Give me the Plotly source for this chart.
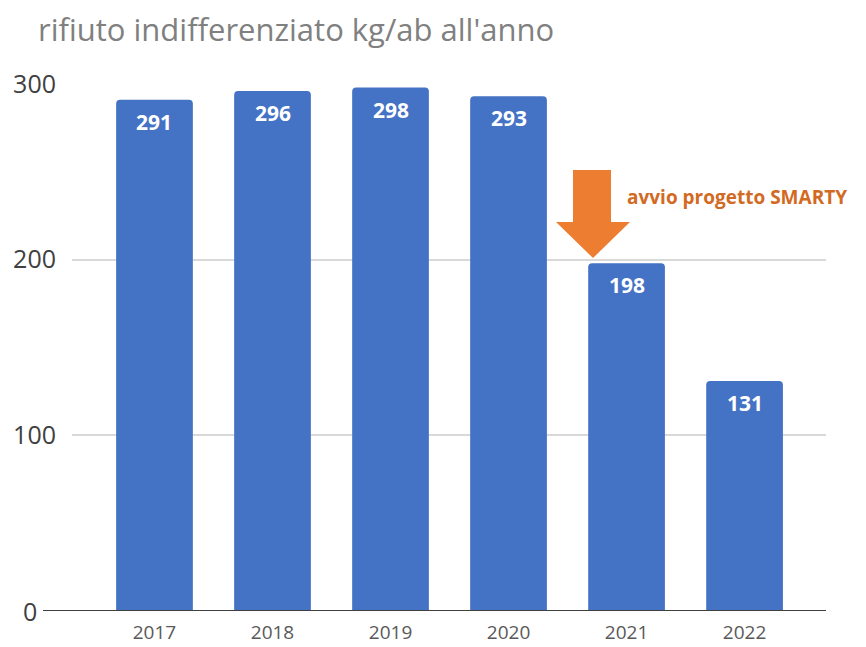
import plotly.graph_objects as go

years = ["2017", "2018", "2019", "2020", "2021", "2022"]
values = [291, 296, 298, 293, 198, 131]
y_ticks = [0, 100, 200, 300]
title_text = "rifiuto indifferenziato kg/ab all'anno"
note_text = "avvio progetto SMARTY"

W, H = 866, 647
L, R, T, B = 72, 40, 84, 36

fig = go.Figure()
fig.add_trace(go.Bar(
    x=list(range(len(years))), y=values,
    marker=dict(color="#4472C4", cornerradius=4, line=dict(width=0)),
    width=0.65, hoverinfo="skip",
))

for i, v in enumerate(values):
    fig.add_annotation(x=i, y=v, xref="x", yref="y", text=f"<b>{v}</b>",
                       showarrow=False, yshift=-22,
                       font=dict(family="Open Sans", size=21, color="white"))

pw, ph = W - L - R, H - T - B
def px(x): return (x - L) / pw
def py(y): return 1 - (y - T) / ph

# block arrow (paper coords)
pts = [(573, 170), (611, 170), (611, 222), (630, 222), (593, 258), (556, 222), (573, 222)]
path = "M " + " L ".join(f"{px(x):.5f},{py(y):.5f}" for x, y in pts) + " Z"
fig.add_shape(type="path", path=path, xref="paper", yref="paper",
              fillcolor="#ED7D31", line=dict(width=0), layer="above")

fig.add_annotation(x=px(625), y=py(197), xref="paper", yref="paper",
                   text=f"<b>{note_text}</b>", showarrow=False, xanchor="left",
                   yanchor="middle",
                   font=dict(family="Open Sans", size=19, color="#D26A23"))

# zero baseline extending left, with its own label
fig.add_shape(type="line", xref="paper", yref="y", x0=px(43), x1=1, y0=0, y1=0,
              line=dict(color="#404040", width=2), layer="above")
fig.add_annotation(x=px(30), y=0, xref="paper", yref="y", text=str(y_ticks[0]),
                   showarrow=False, xanchor="center", yanchor="middle",
                   font=dict(family="Open Sans", size=25, color="#404040"))

fig.update_layout(
    width=W, height=H,
    margin=dict(l=L, r=R, t=T, b=B, autoexpand=False),
    plot_bgcolor="white", paper_bgcolor="white",
    showlegend=False,
    title=dict(text=title_text, x=38 / W, xanchor="left", y=1 - 30 / H, yanchor="middle",
               font=dict(family="Open Sans", size=31, color="#808080")),
    xaxis=dict(tickmode="array", tickvals=list(range(len(years))), ticktext=years,
               range=[-0.699, 5.69], showgrid=False, zeroline=False, showline=False,
               ticklabelstandoff=8, automargin=False,
               tickfont=dict(family="Open Sans", size=19, color="#595959"), ticks=""),
    yaxis=dict(range=[0, 300], tickvals=y_ticks[1:], showgrid=True, gridcolor="#D9D9D9",
               gridwidth=1.5, zeroline=False, showline=False, ticks="",
               ticklabelstandoff=15, automargin=False,
               tickfont=dict(family="Open Sans", size=25, color="#404040")),
    bargap=0.35,
)

fig.write_html("out.html")
